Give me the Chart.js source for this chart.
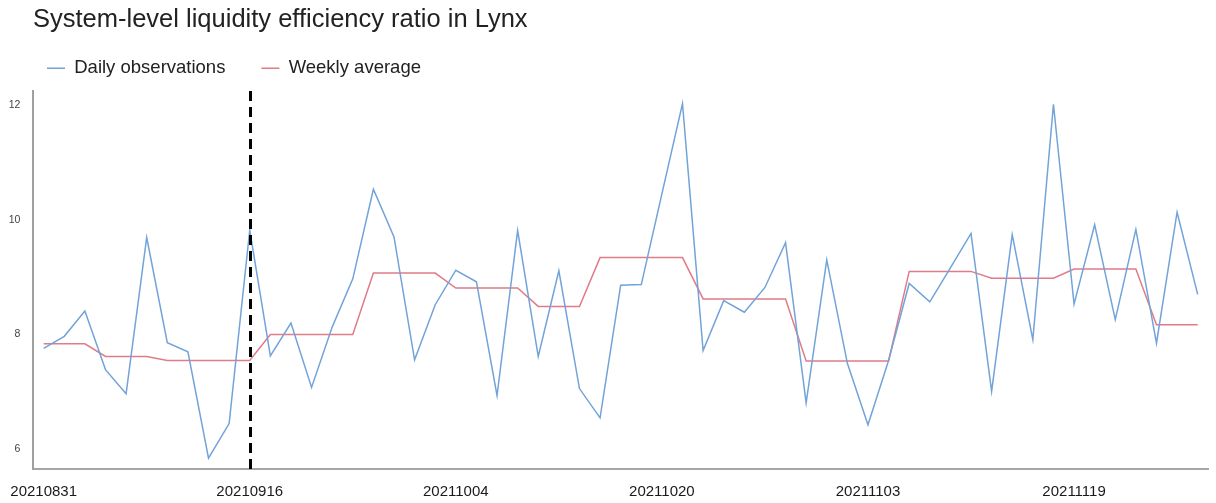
<!DOCTYPE html>
<html>
<head>
<meta charset="utf-8">
<title>System-level liquidity efficiency ratio in Lynx</title>
<script src="https://cdn.jsdelivr.net/npm/chart.js@4.4.1/dist/chart.umd.min.js"></script>
<style>
  html, body { margin: 0; padding: 0; background: #fff; }
  #wrap { position: relative; width: 1216px; height: 503px; }
  #title {
    position: absolute; left: 33px; top: 3px;
    font: 25.5px "Liberation Sans", Arial, sans-serif;
    line-height: 30px; color: #222; white-space: nowrap;
  }
  canvas { position: absolute; left: 0; top: 0; }
</style>
</head>
<body>
<div id="wrap">
  <canvas id="chart" width="1216" height="503"></canvas>
  <div id="title">System-level liquidity efficiency ratio in Lynx</div>
</div>
<script>
// business dates (x categories); only every 10th is shown on the axis
const dates = [
  '20210831', '20210901', '20210902', '20210907', '20210908', '20210909', '20210910', '20210913', '20210914', '20210915',
  '20210916', '20210917', '20210920', '20210921', '20210922', '20210923', '20210924', '20210927', '20210928', '20210929',
  '20211004', '20211005', '20211006', '20211007', '20211012', '20211013', '20211014', '20211015', '20211018', '20211019',
  '20211020', '20211021', '20211022', '20211025', '20211026', '20211027', '20211028', '20211029', '20211101', '20211102',
  '20211103', '20211104', '20211105', '20211108', '20211109', '20211110', '20211115', '20211116', '20211117', '20211118',
  '20211119', '20211122', '20211123', '20211124', '20211125', '20211126', '20211129'
];

const daily = [
  7.76, 7.97, 8.41, 7.39, 6.97, 9.69, 7.86, 7.70, 5.85, 6.45,
  9.82, 7.63, 8.20, 7.08, 8.13, 8.97, 10.53, 9.70, 7.56, 8.52,
  9.12, 8.92, 6.94, 9.81, 7.62, 9.11, 7.06, 6.55, 8.86, 8.87,
  10.45, 12.02, 7.72, 8.59, 8.39, 8.82, 9.60, 6.81, 9.30, 7.50,
  6.43, 7.55, 8.89, 8.57, 9.16, 9.76, 7.01, 9.74, 7.91, 12.01,
  8.53, 9.91, 8.26, 9.83, 7.85, 10.13, 8.70
];

const weekly = [
  7.84, 7.84, 7.84, 7.62, 7.62, 7.62, 7.55, 7.55, 7.55, 7.55,
  7.55, 8.00, 8.00, 8.00, 8.00, 8.00, 9.07, 9.07, 9.07, 9.07,
  8.81, 8.81, 8.81, 8.81, 8.49, 8.49, 8.49, 9.34, 9.34, 9.34,
  9.34, 9.34, 8.62, 8.62, 8.62, 8.62, 8.62, 7.54, 7.54, 7.54,
  7.54, 7.54, 9.10, 9.10, 9.10, 9.10, 8.98, 8.98, 8.98, 8.98,
  9.14, 9.14, 9.14, 9.14, 8.17, 8.17, 8.17
];

const yTicks = [6, 8, 10, 12];
const markerIndex = 10; // dashed line at 20210916

const FONT = '"Liberation Sans", Arial, sans-serif';

// dashed vertical marker, placed through the x scale
const markerLine = {
  id: 'markerLine',
  afterDatasetsDraw(chart) {
    const { ctx, chartArea, scales } = chart;
    const x = Math.round(scales.x.getPixelForValue(markerIndex)) + 0.5;
    ctx.save();
    ctx.strokeStyle = '#000';
    ctx.lineWidth = 3;
    ctx.setLineDash([10, 6]);
    ctx.beginPath();
    ctx.moveTo(x, chartArea.top);
    ctx.lineTo(x, chartArea.bottom);
    ctx.stroke();
    ctx.restore();
  }
};

// keep legend row tight while using wide item spacing, and indent it
const legendBox = {
  id: 'legendBox',
  beforeInit(chart) {
    const fit = chart.legend.fit;
    chart.legend.fit = function () {
      fit.call(this);
      this.height = 68;
    };
  },
  afterLayout(chart) {
    chart.legend.left += 11;
  }
};

new Chart(document.getElementById('chart'), {
  type: 'line',
  data: {
    labels: dates,
    datasets: [
      {
        label: 'Daily observations',
        data: daily,
        borderColor: '#72a3d9',
        backgroundColor: '#72a3d9',
        borderWidth: 1.5,
        pointRadius: 0,
        tension: 0
      },
      {
        label: 'Weekly average',
        data: weekly,
        borderColor: '#e07b88',
        backgroundColor: '#e07b88',
        borderWidth: 1.5,
        pointRadius: 0,
        tension: 0
      }
    ]
  },
  options: {
    responsive: false,
    animation: false,
    layout: { padding: { left: 0, right: 8, top: 23, bottom: 4 } },
    plugins: {
      title: { display: false },
      tooltip: { enabled: false },
      legend: {
        position: 'top',
        align: 'start',
        labels: {
          usePointStyle: true,
          pointStyle: 'line',
          pointStyleWidth: 18,
          boxHeight: 18,
          padding: 36,
          color: '#222',
          font: { family: FONT, size: 18.5 }
        }
      }
    },
    scales: {
      x: {
        offset: true,
        grid: { display: false, drawTicks: false },
        border: { display: true, color: '#a6a6a6', width: 2 },
        afterFit: (scale) => { scale.height = 30; },
        ticks: {
          autoSkip: false,
          maxRotation: 0,
          padding: 10,
          color: '#1a1a1a',
          font: { family: FONT, size: 15, lineHeight: 1.75 },
          callback: (v, i) => (i % 10 === 0 ? dates[i] : '')
        }
      },
      y: {
        min: 5.66,
        max: 12.24,
        grid: { display: false, drawTicks: false },
        border: { display: true, color: '#a0a0a0', width: 2 },
        afterBuildTicks: (scale) => { scale.ticks = yTicks.map(v => ({ value: v })); },
        afterFit: (scale) => { scale.width = 33; },
        ticks: {
          padding: 13,
          color: '#444',
          font: { family: FONT, size: 10.5 }
        }
      }
    }
  },
  plugins: [markerLine, legendBox]
});
</script>
</body>
</html>
